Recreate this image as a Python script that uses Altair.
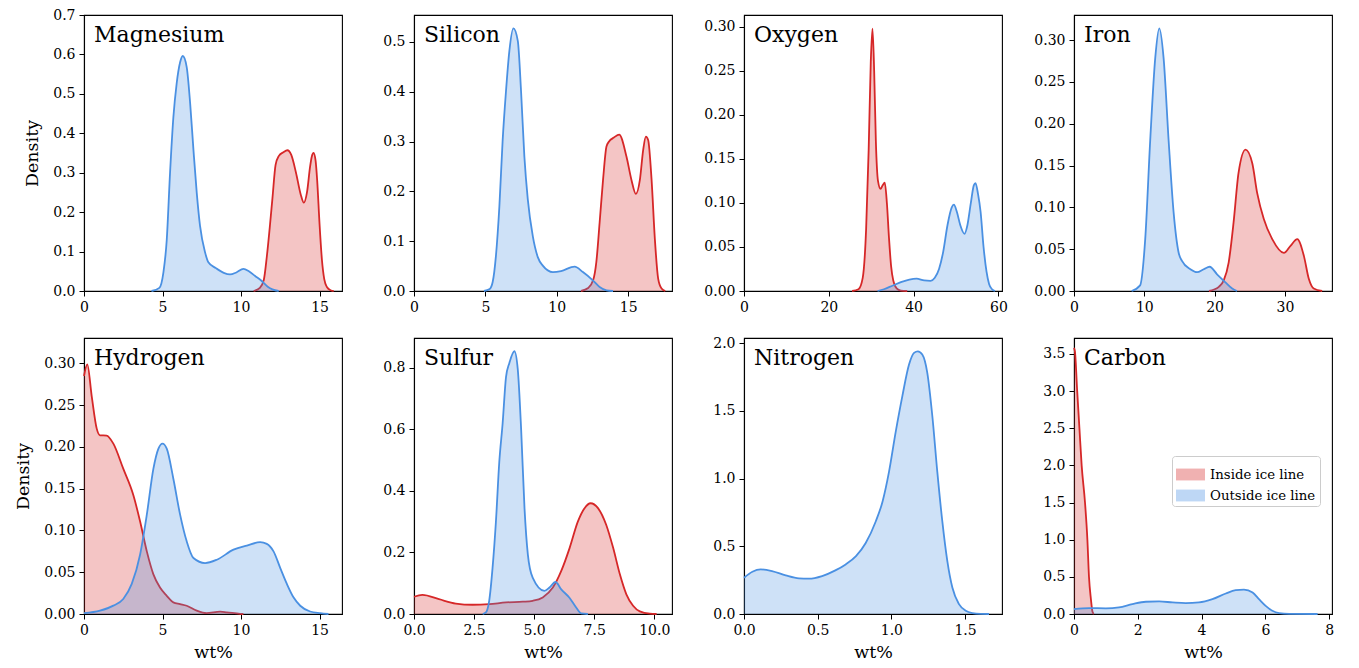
import altair as alt
import pandas as pd

RED = "#d62728"
BLUE = "#4a90e2"
GROUPS = ["Inside ice line", "Outside ice line"]

names = ["Magnesium", "Silicon", "Oxygen", "Iron", "Hydrogen", "Sulfur", "Nitrogen", "Carbon"]

x_max = [16.43, 18.07, 60.85, 36.7, 16.43, 10.74, 1.751, 8.09]
y_max = [0.7, 0.554, 0.3135, 0.330, 0.3305, 0.897, 2.037, 3.714]

x_ticks = [[0, 5, 10, 15], [0, 5, 10, 15], [0, 20, 40, 60], [0, 10, 20, 30],
           [0, 5, 10, 15], [0, 2.5, 5, 7.5, 10], [0, 0.5, 1, 1.5], [0, 2, 4, 6, 8]]
x_fmt = ["d", "d", "d", "d", "d", ".1f", ".1f", "d"]
y_ticks = [[0, 0.1, 0.2, 0.3, 0.4, 0.5, 0.6, 0.7],
           [0, 0.1, 0.2, 0.3, 0.4, 0.5],
           [0, 0.05, 0.1, 0.15, 0.2, 0.25, 0.3],
           [0, 0.05, 0.1, 0.15, 0.2, 0.25, 0.3],
           [0, 0.05, 0.1, 0.15, 0.2, 0.25, 0.3],
           [0, 0.2, 0.4, 0.6, 0.8],
           [0, 0.5, 1, 1.5, 2],
           [0, 0.5, 1, 1.5, 2, 2.5, 3, 3.5]]
y_fmt = [".1f", ".1f", ".2f", ".2f", ".2f", ".1f", ".1f", ".1f"]

# ---- density curves (inside = red, outside = blue) ----
mg_in_x = [10.8, 11.2, 11.45, 11.65, 11.85, 12.0, 12.2, 12.4, 12.7, 12.95, 13.2, 13.5, 13.8, 14.0, 14.2, 14.4, 14.5, 14.62, 14.75, 14.85, 15.0, 15.15, 15.3, 15.47, 15.7, 15.9]
mg_in_y = [0, 0.008, 0.028, 0.09, 0.17, 0.235, 0.32, 0.342, 0.352, 0.357, 0.345, 0.30, 0.245, 0.224, 0.25, 0.316, 0.34, 0.35, 0.33, 0.28, 0.17, 0.08, 0.03, 0.01, 0.002, 0]
mg_out_x = [4.3, 4.8, 5.06, 5.27, 5.48, 5.69, 5.9, 6.12, 6.29, 6.54, 6.76, 6.97, 7.18, 7.39, 7.71, 7.92, 8.4, 8.9, 9.3, 9.7, 10.15, 10.5, 10.9, 11.3, 11.7, 12.0, 12.4]
mg_out_y = [0, 0.008, 0.048, 0.13, 0.30, 0.44, 0.526, 0.58, 0.596, 0.568, 0.476, 0.358, 0.249, 0.165, 0.098, 0.073, 0.058, 0.046, 0.042, 0.047, 0.056, 0.05, 0.038, 0.026, 0.011, 0.004, 0]

si_in_x = [11.7, 12.2, 12.55, 12.77, 13.0, 13.24, 13.48, 13.66, 14.0, 14.37, 14.88, 15.23, 15.54, 15.82, 16.05, 16.24, 16.4, 16.64, 16.87, 17.1, 17.34, 17.6]
si_in_y = [0, 0.006, 0.022, 0.058, 0.137, 0.223, 0.29, 0.30, 0.308, 0.314, 0.27, 0.223, 0.195, 0.223, 0.283, 0.31, 0.303, 0.223, 0.104, 0.025, 0.005, 0]
si_out_x = [4.9, 5.3, 5.51, 5.74, 5.98, 6.21, 6.44, 6.68, 6.96, 7.27, 7.5, 7.73, 7.97, 8.32, 8.67, 9.02, 9.73, 10.3, 11.25, 11.83, 12.54, 13.0, 13.48, 13.94]
si_out_y = [0, 0.004, 0.018, 0.071, 0.17, 0.303, 0.40, 0.482, 0.527, 0.502, 0.40, 0.27, 0.184, 0.11, 0.068, 0.051, 0.038, 0.04, 0.049, 0.038, 0.021, 0.008, 0.0013, 0]

o_in_x = [25.5, 27.0, 28.0, 28.8, 29.4, 29.9, 30.3, 30.7, 31.1, 31.6, 32.2, 32.7, 33.2, 33.7, 34.2, 34.7, 35.2, 36.0, 37.0, 38.5]
o_in_y = [0, 0.002, 0.015, 0.07, 0.16, 0.26, 0.298, 0.25, 0.17, 0.125, 0.116, 0.12, 0.123, 0.10, 0.06, 0.028, 0.012, 0.003, 0.0005, 0]
o_out_x = [31.5, 33.0, 35.0, 37.0, 39.0, 40.7, 42.5, 44.0, 45.0, 46.0, 47.0, 48.0, 49.0, 49.5, 50.2, 51.0, 52.0, 52.7, 53.5, 54.2, 54.6, 55.2, 55.8, 56.5, 57.2, 57.8, 58.5, 59.2]
o_out_y = [0, 0.002, 0.006, 0.010, 0.013, 0.014, 0.012, 0.0116, 0.015, 0.025, 0.045, 0.075, 0.095, 0.098, 0.09, 0.075, 0.065, 0.075, 0.10, 0.12, 0.1226, 0.11, 0.09, 0.05, 0.022, 0.008, 0.002, 0]

fe_in_x = [19.2, 20.6, 21.3, 22.0, 22.7, 23.4, 24.4, 25.35, 26.06, 27.0, 28.2, 29.86, 30.8, 31.76, 32.7, 33.4, 34.1, 35.3]
fe_in_y = [0, 0.005, 0.0126, 0.034, 0.082, 0.141, 0.169, 0.153, 0.117, 0.086, 0.062, 0.0455, 0.054, 0.062, 0.042, 0.0146, 0.003, 0]
fe_out_x = [8.2, 9.4, 10.13, 10.84, 11.56, 12.13, 12.74, 13.46, 14.17, 14.88, 15.36, 16.55, 17.5, 18.45, 19.3, 20.35, 21.5, 22.5, 23.2]
fe_out_y = [0, 0.0067, 0.062, 0.18, 0.279, 0.314, 0.279, 0.18, 0.094, 0.046, 0.036, 0.026, 0.0225, 0.026, 0.029, 0.02, 0.0107, 0.003, 0]

h_in_x = [0, 0.21, 0.49, 0.81, 1.02, 1.44, 1.87, 2.5, 3.14, 3.57, 4.0, 4.42, 4.84, 5.27, 5.69, 6.12, 6.54, 7.18, 7.8, 8.67, 9.1, 9.94, 10.15]
h_in_y = [0.285, 0.299, 0.261, 0.222, 0.214, 0.2137, 0.204, 0.174, 0.1425, 0.111, 0.075, 0.0475, 0.0317, 0.0218, 0.0139, 0.0119, 0.0099, 0.004, 0.001, 0.0028, 0.002, 0.0002, 0]
h_out_x = [0, 1.02, 1.87, 2.5, 3.04, 3.57, 4.0, 4.42, 4.74, 5.0, 5.27, 5.69, 6.12, 6.54, 6.97, 7.71, 8.46, 9.52, 10.37, 11.22, 11.64, 12.07, 12.5, 12.92, 13.34, 13.77, 14.4, 15.04, 15.57]
h_out_y = [0.001, 0.004, 0.01, 0.018, 0.036, 0.071, 0.119, 0.174, 0.198, 0.204, 0.198, 0.162, 0.119, 0.087, 0.067, 0.061, 0.065, 0.077, 0.082, 0.086, 0.084, 0.075, 0.055, 0.036, 0.020, 0.0099, 0.003, 0.001, 0]

s_in_x = [0, 0.35, 1.04, 1.74, 2.44, 3.13, 3.83, 4.53, 4.94, 5.36, 5.78, 6.13, 6.48, 6.82, 7.1, 7.35, 7.66, 8.0, 8.29, 8.57, 8.84, 9.12, 9.4, 9.82, 10.1]
s_in_y = [0.056, 0.062, 0.048, 0.034, 0.030, 0.032, 0.0376, 0.040, 0.043, 0.054, 0.086, 0.14, 0.215, 0.30, 0.344, 0.36, 0.344, 0.29, 0.215, 0.129, 0.064, 0.027, 0.0086, 0.001, 0]
s_out_x = [2.86, 2.99, 3.13, 3.27, 3.41, 3.55, 3.69, 3.83, 3.97, 4.18, 4.32, 4.46, 4.6, 4.74, 4.94, 5.43, 5.64, 5.89, 6.13, 6.48, 6.75, 6.96, 7.24]
s_out_y = [0, 0.005, 0.043, 0.15, 0.30, 0.494, 0.62, 0.77, 0.816, 0.854, 0.795, 0.60, 0.344, 0.193, 0.118, 0.075, 0.086, 0.104, 0.08, 0.052, 0.021, 0.002, 0]

n_out_x = [0, 0.057, 0.113, 0.19, 0.283, 0.373, 0.44, 0.53, 0.62, 0.69, 0.76, 0.826, 0.894, 0.94, 0.984, 1.029, 1.075, 1.12, 1.154, 1.18, 1.21, 1.244, 1.278, 1.312, 1.346, 1.38, 1.414, 1.459, 1.505, 1.55, 1.606, 1.663]
n_out_y = [0.268, 0.312, 0.329, 0.317, 0.285, 0.263, 0.261, 0.28, 0.322, 0.366, 0.427, 0.524, 0.683, 0.829, 1.049, 1.341, 1.61, 1.841, 1.927, 1.939, 1.915, 1.78, 1.463, 1.049, 0.683, 0.39, 0.195, 0.073, 0.024, 0.007, 0.001, 0]

c_in_x = [0, 0.03, 0.1, 0.17, 0.24, 0.345, 0.42, 0.47, 0.53, 0.58, 0.62]
c_in_y = [3.58, 3.53, 3.0, 2.5, 2.0, 1.5, 1.0, 0.5, 0.2, 0.03, 0]
c_out_x = [0, 0.47, 1.0, 1.41, 1.83, 2.25, 2.67, 3.09, 3.5, 3.92, 4.34, 4.76, 5.07, 5.33, 5.6, 5.8, 6.01, 6.22, 6.43, 6.75, 7.64]
c_out_y = [0.067, 0.08, 0.076, 0.089, 0.133, 0.165, 0.169, 0.156, 0.147, 0.156, 0.2, 0.276, 0.32, 0.329, 0.289, 0.2, 0.11, 0.044, 0.013, 0.002, 0]

inside = [(mg_in_x, mg_in_y), (si_in_x, si_in_y), (o_in_x, o_in_y), (fe_in_x, fe_in_y),
          (h_in_x, h_in_y), (s_in_x, s_in_y), None, (c_in_x, c_in_y)]
outside = [(mg_out_x, mg_out_y), (si_out_x, si_out_y), (o_out_x, o_out_y), (fe_out_x, fe_out_y),
           (h_out_x, h_out_y), (s_out_x, s_out_y), (n_out_x, n_out_y), (c_out_x, c_out_y)]

FONT = "DejaVu Serif"


def panel(i):
    xenc = alt.X("x:Q",
                 scale=alt.Scale(domain=[0, x_max[i]], nice=False, zero=False),
                 axis=alt.Axis(values=x_ticks[i], format=x_fmt[i], labelFont=FONT, titleFont=FONT),
                 title="wt%" if i >= 4 else None)
    yenc = alt.Y("y:Q",
                 scale=alt.Scale(domain=[0, y_max[i]], nice=False, zero=False),
                 axis=alt.Axis(values=y_ticks[i], format=y_fmt[i], labelFont=FONT, titleFont=FONT,
                               titlePadding=11),
                 title="Density" if i % 4 == 0 else None,
                 stack=None)
    if i == 7:
        legend = alt.Legend(orient="none", legendX=98, legendY=118, title=None,
                            symbolType="M-1,-0.41H1V0.41H-1Z", symbolSize=841,
                            symbolStrokeWidth=0, symbolOpacity=0.36,
                            labelFont=FONT, labelFontSize=13.3, labelColor="black",
                            labelOffset=5, strokeColor="#cccccc", fillColor="white",
                            padding=4, cornerRadius=3, rowPadding=-3)
    else:
        legend = None
    cenc = alt.Color("g:N", scale=alt.Scale(domain=GROUPS, range=[RED, BLUE]), legend=legend)

    layers = []
    for grp, curve, col in ((GROUPS[0], inside[i], RED), (GROUPS[1], outside[i], BLUE)):
        if curve is None:
            continue
        df = pd.DataFrame({"x": curve[0], "y": curve[1], "g": grp})
        base = alt.Chart(df)
        layers.append(base.mark_area(interpolate="monotone", fillOpacity=0.27).encode(x=xenc, y=yenc, color=cenc))
        layers.append(base.mark_line(interpolate="monotone", color=col, strokeWidth=1.8).encode(x=xenc, y=yenc))
    label = alt.Chart(pd.DataFrame({"name": [names[i]]})).mark_text(
        align="left", baseline="alphabetic", font=FONT, fontSize=22, color="black"
    ).encode(x=alt.value(10), y=alt.value(27), text="name:N")
    layers.append(label)
    return alt.layer(*layers).properties(width=258, height=276)


chart = alt.concat(*[panel(i) for i in range(8)], columns=4,
                   spacing={"row": 47, "column": 72}, bounds="flush").resolve_scale(
    x="independent", y="independent", color="independent"
).properties(
    padding={"left": 6, "top": -1, "right": 0, "bottom": 0}
).configure(font=FONT).configure_view(
    stroke="black", strokeWidth=1.1
).configure_axis(
    grid=False, domainColor="black", domainWidth=1.1, tickColor="black", tickWidth=1,
    tickSize=5, labelPadding=4, labelFont=FONT, labelFontSize=14, labelColor="black",
    titleFont=FONT, titleFontSize=17.5, titleFontWeight="normal", titleColor="black",
    titlePadding=6, labelFlush=False, labelOverlap=False, labelBound=False
).configure_text(font=FONT)

chart.save("out.html", embed_options={"renderer": "svg", "actions": False})
